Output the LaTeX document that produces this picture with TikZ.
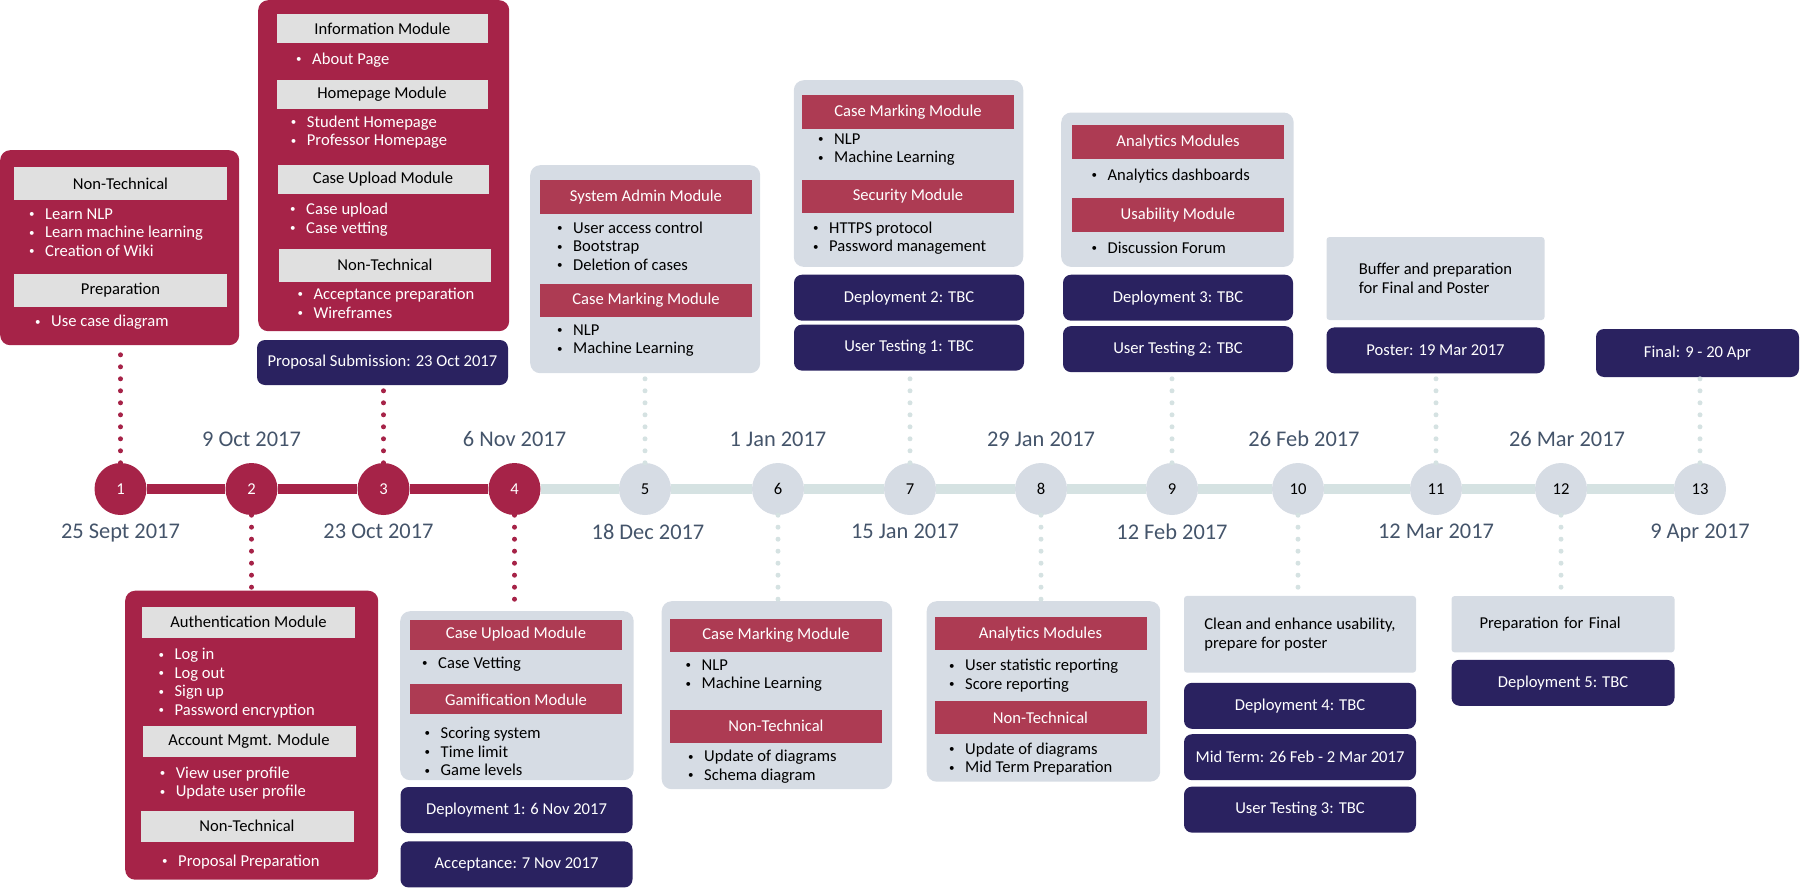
\documentclass[tikz,border=0pt]{standalone}
\usepackage{fontspec}
\setmainfont{Carlito}
\usepackage{tikz}
\usetikzlibrary{positioning}

\definecolor{crimson}{RGB}{166,35,72}
\definecolor{rosered}{RGB}{173,59,83}
\definecolor{deepnavy}{RGB}{42,34,96}
\definecolor{paleblue}{RGB}{214,220,228}
\definecolor{paletrack}{RGB}{213,226,226}
\definecolor{headgrey}{RGB}{224,224,224}
\definecolor{slate}{RGB}{68,84,106}

\newcommand{\itm}[1]{\makebox[16pt][l]{\raisebox{1.6pt}{\fontsize{11}{11}\selectfont\textbullet}}#1}

\begin{document}
\begin{tikzpicture}[x=1pt, y=-1pt, font=\fontsize{16.6}{18.6}\selectfont]

        % Define styles
        \tikzstyle{redbox} = [rectangle, fill=crimson, rounded corners=10pt, anchor=north west, inner sep=0pt]
        \tikzstyle{greybox} = [rectangle, fill=paleblue, rounded corners=10pt, anchor=north west, inner sep=0pt]
        \tikzstyle{notebox} = [rectangle, fill=paleblue, rounded corners=3pt, align=left, inner ysep=0pt]
        \tikzstyle{navy} = [rectangle, fill=deepnavy, rounded corners=8pt, text=white, minimum height=46pt, inner sep=0pt]
        \tikzstyle{headg} = [rectangle, fill=headgrey, text=black, minimum width=212pt, minimum height=31pt, inner sep=0pt]
        \tikzstyle{headr} = [rectangle, fill=rosered, text=white, minimum width=212pt, minimum height=33pt, inner sep=0pt]
        \tikzstyle{items} = [align=left, anchor=north west, inner sep=0pt]
        \tikzstyle{itemsw} = [items, text=white]
        \tikzstyle{done} = [circle, fill=crimson, text=white, minimum size=52pt, inner sep=0pt]
        \tikzstyle{todo} = [circle, fill=paleblue, text=black, minimum size=52pt, inner sep=0pt]
        \tikzstyle{datelbl} = [text=slate, font=\fontsize{22.4}{26}\selectfont, inner sep=0pt]
        \tikzstyle{track} = [draw=paletrack, line width=10pt]
        \tikzstyle{trackdone} = [draw=crimson, line width=9.5pt]
        \tikzstyle{dotred} = [draw=crimson, line width=5pt, line cap=round, dash pattern=on 0pt off 12pt]
        \tikzstyle{dotgrey} = [draw=paletrack, line width=5pt, line cap=round, dash pattern=on 0pt off 12pt]

        \useasboundingbox (0,0) rectangle (1800,894);

        % Place milestones
        \node [done] (c1) at (120.5,489) {1};
        \node [done] (c2) at (251.5,489) {2};
        \node [done] (c3) at (383.5,489) {3};
        \node [done] (c4) at (514.5,489) {4};
        \node [todo] (c5) at (645,489) {5};
        \node [todo] (c6) at (778,489) {6};
        \node [todo] (c7) at (910,489) {7};
        \node [todo] (c8) at (1041,489) {8};
        \node [todo] (c9) at (1172,489) {9};
        \node [todo] (c10) at (1298,489) {10};
        \node [todo] (c11) at (1436,489) {11};
        \node [todo] (c12) at (1561,489) {12};
        \node [todo] (c13) at (1700,489) {13};

        % Dates
        \node [datelbl, below=9pt of c1] (d1) {25 Sept 2017};
        \node [datelbl, above=16pt of c2] (d2) {9 Oct 2017};
        \node [datelbl, below=9pt of c3, xshift=-5pt] (d3) {23 Oct 2017};
        \node [datelbl, above=16pt of c4] (d4) {6 Nov 2017};
        \node [datelbl, below=9pt of c5, xshift=3pt] (d5) {18 Dec 2017};
        \node [datelbl, above=16pt of c6] (d6) {1 Jan 2017};
        \node [datelbl, below=9pt of c7, xshift=-5pt] (d7) {15 Jan 2017};
        \node [datelbl, above=16pt of c8] (d8) {29 Jan 2017};
        \node [datelbl, below=9pt of c9] (d9) {12 Feb 2017};
        \node [datelbl, above=16pt of c10, xshift=6pt] (d10) {26 Feb 2017};
        \node [datelbl, below=9pt of c11] (d11) {12 Mar 2017};
        \node [datelbl, above=16pt of c12, xshift=6pt] (d12) {26 Mar 2017};
        \node [datelbl, below=9pt of c13] (d13) {9 Apr 2017};

        % Milestone 1
        \node [redbox, minimum width=239pt, minimum height=195pt] (b1) at (0,150) {};
        \node [headg, minimum width=213pt, minimum height=33pt] (b1h1) at (120.5,183.5) {Non-Technical};
        \node [itemsw] (b1l1) at (29,208.5) {\itm{Learn NLP}\\\itm{Learn machine learning}\\\itm{Creation of Wiki}};
        \node [headg, minimum width=213pt, minimum height=33pt] (b1h2) at (120.5,290.5) {Preparation};
        \node [itemsw] (b1l2) at (35,315) {\itm{Use case diagram}};

        % Milestone 2
        \node [redbox, minimum width=253pt, minimum height=289pt] (b2) at (125,590.5) {};
        \node [headg, minimum width=213pt] (b2h1) at (248.5,622) {Authentication Module};
        \node [itemsw] (b2l1) at (158.4,648) {\itm{Log in}\\\itm{Log out}\\\itm{Sign up}\\\itm{Password encryption}};
        \node [headg, minimum width=213pt] (b2h2) at (249,741.5) {Account Mgmt. Module};
        \node [itemsw] (b2l2) at (159.6,766.5) {\itm{View user profile}\\\itm{Update user profile}};
        \node [headg, minimum width=213pt] (b2h3) at (247,826) {Non-Technical};
        \node [itemsw] (b2l3) at (162,854.5) {\itm{Proposal Preparation}};

        % Milestone 3
        \node [redbox, minimum width=251pt, minimum height=331pt] (b3) at (258,0) {};
        \node [headg, minimum width=211pt, minimum height=29pt] (b3h1) at (382.5,28.5) {Information Module};
        \node [itemsw] (b3l1) at (296,52.5) {\itm{About Page}};
        \node [headg, minimum width=211pt, minimum height=29pt] (b3h2) at (382,94) {Homepage Module};
        \node [itemsw] (b3l2) at (290.7,115.5) {\itm{Student Homepage}\\\itm{Professor Homepage}};
        \node [headg, minimum width=211pt, minimum height=29pt] (b3h3) at (383,179) {Case Upload Module};
        \node [itemsw] (b3l3) at (290,202.8) {\itm{Case upload}\\\itm{Case vetting}};
        \node [headg, minimum width=212pt, minimum height=33pt] (b3h4) at (385,265) {Non-Technical};
        \node [itemsw] (b3l4) at (297.3,287.8) {\itm{Acceptance preparation}\\\itm{Wireframes}};
        \node [navy, minimum width=251pt, minimum height=45pt] (prop) at (382.5,362.5) {Proposal Submission: 23 Oct 2017};

        % Milestone 4
        \node [greybox, minimum width=233.5pt, minimum height=169pt] (b4) at (400,611) {};
        \node [headr, minimum height=30pt] (b4h1) at (516,634.5) {Case Upload Module};
        \node [items] (b4l1) at (422,656.5) {\itm{Case Vetting}};
        \node [headr, minimum height=30pt] (b4h2) at (516,699.4) {Gamification Module};
        \node [items] (b4l2) at (424.5,726.8) {\itm{Scoring system}\\\itm{Time limit}\\\itm{Game levels}};
        \node [navy, minimum width=232pt] (dep1) at (516.5,810) {Deployment 1: 6 Nov 2017};
        \node [navy, minimum width=232pt, below=8pt of dep1] (acc) {Acceptance: 7 Nov 2017};

        % Milestone 5
        \node [greybox, minimum width=230pt, minimum height=208pt] (b5) at (530,165) {};
        \node [headr, minimum height=34pt] (b5h1) at (646,197) {System Admin Module};
        \node [items] (b5l1) at (557,221.5) {\itm{User access control}\\\itm{Bootstrap}\\\itm{Deletion of cases}};
        \node [headr] (b5h2) at (646,300.5) {Case Marking Module};
        \node [items] (b5l2) at (557,324.5) {\itm{NLP}\\\itm{Machine Learning}};

        % Milestone 6
        \node [greybox, minimum width=230.5pt, minimum height=188pt] (b6) at (661.5,601) {};
        \node [headr] (b6h1) at (776,635) {Case Marking Module};
        \node [items] (b6l1) at (685.4,659.5) {\itm{NLP}\\\itm{Machine Learning}};
        \node [headr] (b6h2) at (776,726) {Non-Technical};
        \node [items] (b6l2) at (688,750.2) {\itm{Update of diagrams}\\\itm{Schema diagram}};

        % Milestone 7
        \node [greybox, minimum width=229.5pt, minimum height=186.7pt] (b7) at (793.6,80) {};
        \node [headr, minimum width=211.5pt, minimum height=34pt] (b7h1) at (908,112) {Case Marking Module};
        \node [items] (b7l1) at (818,133.5) {\itm{NLP}\\\itm{Machine Learning}};
        \node [headr, minimum width=211.5pt] (b7h2) at (908,196) {Security Module};
        \node [items] (b7l2) at (813,221.5) {\itm{HTTPS protocol}\\\itm{Password management}};
        \node [navy, minimum width=230pt] (dep2) at (909,297.7) {Deployment 2: TBC};
        \node [navy, minimum width=230pt, below=3.5pt of dep2] (ut1) {User Testing 1: TBC};

        % Milestone 8
        \node [greybox, minimum width=233.5pt, minimum height=180.5pt] (b8) at (926.5,601) {};
        \node [headr] (b8h1) at (1040.5,633.7) {Analytics Modules};
        \node [items] (b8l1) at (949,659.2) {\itm{User statistic reporting}\\\itm{Score reporting}};
        \node [headr] (b8h2) at (1040.5,717.7) {Non-Technical};
        \node [items] (b8l2) at (949,742.5) {\itm{Update of diagrams}\\\itm{Mid Term Preparation}};

        % Milestone 9
        \node [greybox, minimum width=232.5pt, minimum height=154.4pt] (b9) at (1061,112.3) {};
        \node [headr, minimum width=211.5pt, minimum height=34pt] (b9h1) at (1178,142) {Analytics Modules};
        \node [items] (b9l1) at (1091.4,168.5) {\itm{Analytics dashboards}};
        \node [headr, minimum width=211.5pt, minimum height=34pt] (b9h2) at (1178,215) {Usability Module};
        \node [items] (b9l2) at (1091.4,241.8) {\itm{Discussion Forum}};
        \node [navy, minimum width=230pt] (dep3) at (1178,297.7) {Deployment 3: TBC};
        \node [navy, minimum width=230pt, below=5pt of dep3] (ut2) {User Testing 2: TBC};

        % Milestone 10
        \node [notebox, minimum width=232pt, minimum height=76.7pt] (b10) at (1300,634.3) {Clean and enhance usability,\\prepare for poster};
        \node [navy, minimum width=232pt] (dep4) at (1300,705.8) {Deployment 4: TBC};
        \node [navy, minimum width=232pt, below=5pt of dep4] (mid) {Mid Term: 26 Feb - 2 Mar 2017};
        \node [navy, minimum width=232pt, below=6pt of mid] (ut3) {User Testing 3: TBC};

        % Milestone 11
        \node [notebox, minimum width=218pt, minimum height=83pt] (b11) at (1435.5,278.5) {Buffer and preparation\\for Final and Poster};
        \node [navy, minimum width=218pt, below=7pt of b11] (poster) {Poster: 19 Mar 2017};

        % Milestone 12
        \node [notebox, minimum width=223pt, minimum height=56.3pt, text width=167pt, inner xsep=28pt] (b12) at (1563,624.2) {Preparation for Final};
        \node [navy, minimum width=223pt, below=7pt of b12] (dep5) {Deployment 5: TBC};

        % Milestone 13
        \node [navy, minimum width=203pt, minimum height=48pt] (fin) at (1697.5,353) {Final: 9 - 20 Apr};

        % Draw edges
        \path [trackdone] (c1) -- (c2);
        \path [trackdone] (c2) -- (c3);
        \path [trackdone] (c3) -- (c4);
        \path [track] (c4) -- (c5);
        \path [track] (c5) -- (c6);
        \path [track] (c6) -- (c7);
        \path [track] (c7) -- (c8);
        \path [track] (c8) -- (c9);
        \path [track] (c9) -- (c10);
        \path [track] (c10) -- (c11);
        \path [track] (c11) -- (c12);
        \path [track] (c12) -- (c13);

        % Dotted connections
        \path [dotred] (c1.north) -- (c1 |- b1.south);
        \path [dotred] (c2.south) -- (c2 |- b2.north);
        \path [dotred] (c3.north) -- (c3 |- prop.south);
        \path [dotred] (c4.south) -- (c4 |- b4.north);
        \path [dotgrey] (c5.north) -- (c5 |- b5.south);
        \path [dotgrey] (c6.south) -- (c6 |- b6.north);
        \path [dotgrey] (c7.north) -- (c7 |- ut1.south);
        \path [dotgrey] (c8.south) -- (c8 |- b8.north);
        \path [dotgrey] (c9.north) -- (c9 |- ut2.south);
        \path [dotgrey] (c10.south) -- (c10 |- b10.north);
        \path [dotgrey] (c11.north) -- (c11 |- poster.south);
        \path [dotgrey] (c12.south) -- (c12 |- b12.north);
        \path [dotgrey] (c13.north) -- (c13 |- fin.south);

    \end{tikzpicture}
\end{document}
